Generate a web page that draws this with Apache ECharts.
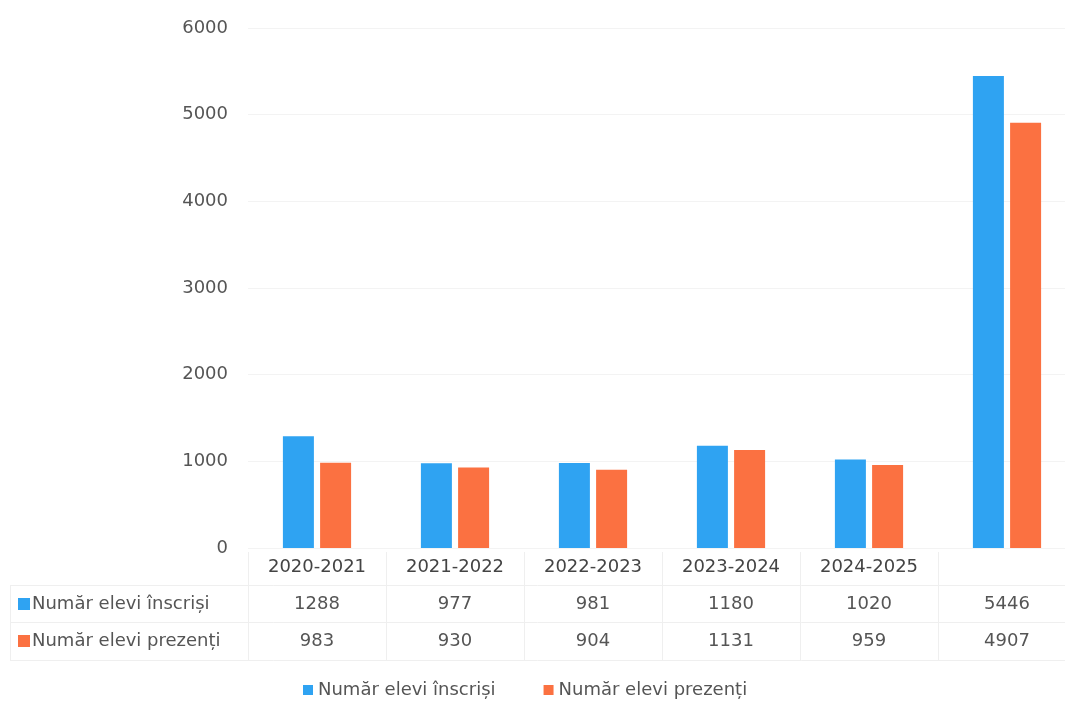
<!DOCTYPE html>
<html>
<head>
<meta charset="utf-8">
<script src="https://cdn.jsdelivr.net/npm/echarts@6/dist/echarts.min.js"></script>
<style>
  html, body { margin: 0; padding: 0; background: #fff; }
  #chart { width: 1065px; height: 706px; }
</style>
</head>
<body>
<div id="chart"></div>
<script>
// categorii (ultima coloana = total, fara eticheta)
const categories = ['2020-2021', '2021-2022', '2022-2023', '2023-2024', '2024-2025', '']
const inscrisi = [1288, 977, 981, 1180, 1020, 5446]
const prezenti = [983, 930, 904, 1131, 959, 4907]
const seriesNames = ['Număr elevi înscriși', 'Număr elevi prezenți']
const yTicks = { min: 0, max: 6000, interval: 1000 }

const BLUE = '#2FA3F2'
const ORANGE = '#FB7141'
const FONT = '"DejaVu Sans", sans-serif'
const FS = 18

let chart = echarts.init(document.getElementById('chart'))

let option = {
    backgroundColor: '#fff',
    animation: false,
    textStyle: { fontFamily: FONT },
    grid: {
        left: 248,
        top: 28,
        width: 828,
        height: 520,
        outerBoundsMode: 'none'
    },
    legend: {
        top: 676,
        left: 298,
        itemWidth: 10,
        itemHeight: 10,
        itemGap: 48,
        icon: 'rect',
        textStyle: { color: '#555', fontSize: FS, fontFamily: FONT },
        data: seriesNames
    },
    xAxis: {
        type: 'category',
        data: categories,
        axisLine: { show: false },
        axisTick: { show: false },
        axisLabel: {
            interval: 0,
            margin: 1,
            formatter: (value, idx) => {
                return '{cat|' + (value || ' ') + '}\n{v|' + inscrisi[idx] + '}\n{v|' + prezenti[idx] + '}'
            },
            rich: {
                cat: { fontSize: FS, lineHeight: 37, color: '#444', fontFamily: FONT },
                v: { fontSize: FS, lineHeight: 37, color: '#555', fontFamily: FONT }
            }
        }
    },
    yAxis: {
        type: 'value',
        min: yTicks.min,
        max: yTicks.max,
        interval: yTicks.interval,
        axisLine: { show: false },
        axisTick: { show: false },
        axisLabel: {
            margin: 20,
            fontSize: FS,
            color: '#555',
            fontFamily: FONT,
            formatter: v => String(v)
        },
        splitLine: { lineStyle: { color: '#f3f3f3' } }
    },
    series: [
        {
            name: seriesNames[0],
            type: 'bar',
            barWidth: 31,
            barGap: '20%',
            itemStyle: { color: BLUE },
            data: inscrisi
        },
        {
            name: seriesNames[1],
            type: 'bar',
            barWidth: 31,
            itemStyle: { color: ORANGE },
            data: prezenti
        }
    ]
}

chart.setOption(option)

// tabelul de date: chenare + antet de rand, pozitionate dupa axa
let step = chart.convertToPixel({ xAxisIndex: 0 }, 1) - chart.convertToPixel({ xAxisIndex: 0 }, 0)
let lines = []
for (let i = 0; i <= categories.length; i++) {
    let x = Math.round(chart.convertToPixel({ xAxisIndex: 0 }, 0) - step / 2 + i * step) + 0.5
    lines.push({
        type: 'line',
        shape: { x1: x, y1: 552, x2: x, y2: 660 },
        style: { stroke: '#efefef', lineWidth: 1 }
    })
}
let rowY = [585, 622, 660]
rowY.forEach(y => {
    lines.push({
        type: 'line',
        shape: { x1: 10, y1: y + 0.5, x2: 1065, y2: y + 0.5 },
        style: { stroke: '#efefef', lineWidth: 1 }
    })
})
lines.push({
    type: 'line',
    shape: { x1: 10.5, y1: 585, x2: 10.5, y2: 660 },
    style: { stroke: '#efefef', lineWidth: 1 }
})

let headers = [
    { y: 604, color: BLUE, text: seriesNames[0] },
    { y: 641, color: ORANGE, text: seriesNames[1] }
]
headers.forEach(h => {
    lines.push({
        type: 'rect',
        shape: { x: 18, y: h.y - 6, width: 12, height: 12 },
        style: { fill: h.color }
    })
    lines.push({
        type: 'text',
        x: 32,
        y: h.y,
        style: {
            text: h.text,
            fill: '#555',
            fontSize: FS,
            fontFamily: FONT,
            verticalAlign: 'middle'
        }
    })
})

chart.setOption({ graphic: lines })
</script>
</body>
</html>
